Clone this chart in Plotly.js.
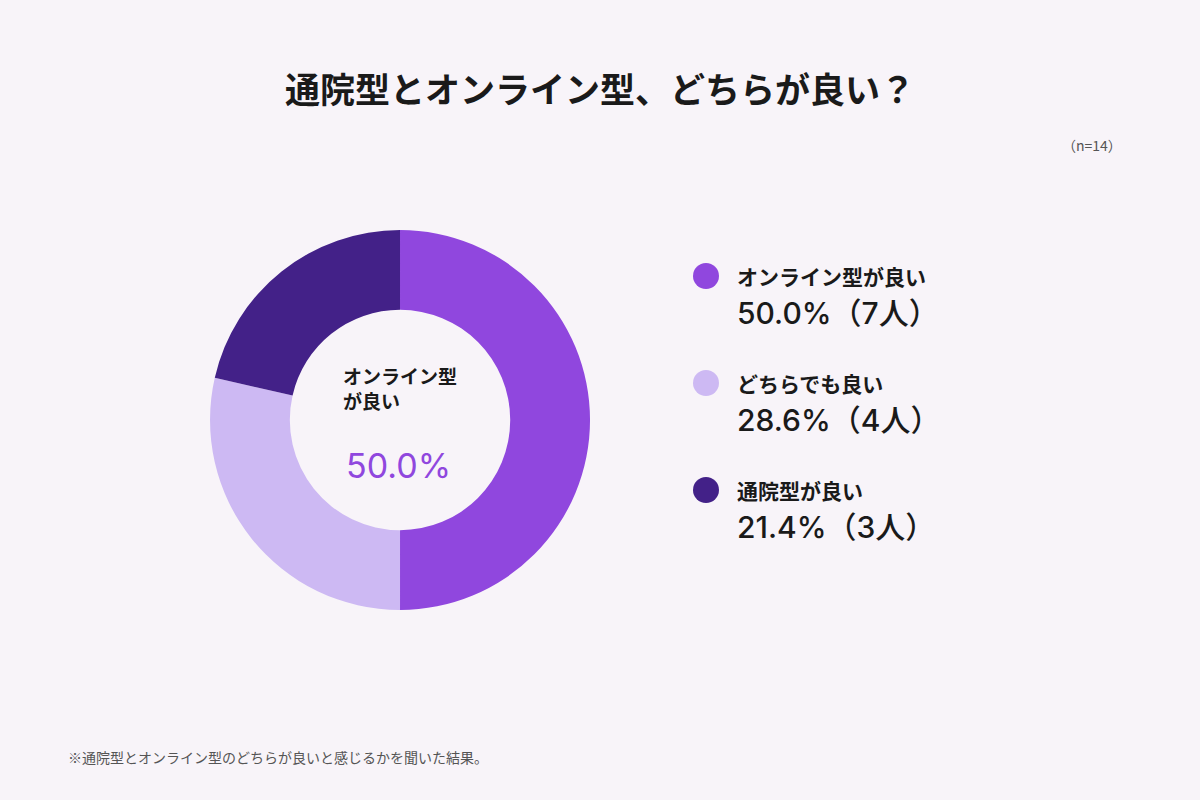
<!DOCTYPE html>
<html>
<head>
<meta charset="utf-8">
<script src="https://cdn.plot.ly/plotly-3.0.1.min.js"></script>
<style>
  html, body { margin: 0; padding: 0; background: #f8f4f9; }
  #chart { width: 1200px; height: 800px; }
</style>
</head>
<body>
<div id="chart"></div>
<script>
var labels = ['オンライン型が良い', 'どちらでも良い', '通院型が良い'];
var counts = [7, 4, 3];
var shares = [50.0, 28.6, 21.4];
var colors = ['#9047de', '#cdb9f3', '#432188'];

var font = '"Noto Sans CJK JP", "Noto Sans", sans-serif';
var numFont = 'Inter, "Noto Sans CJK JP", sans-serif';

var donut = {
  type: 'pie',
  labels: labels,
  values: counts,
  hole: 0.58,
  sort: false,
  direction: 'clockwise',
  rotation: 0,
  textinfo: 'none',
  hoverinfo: 'none',
  marker: { colors: colors, line: { width: 0 } },
  domain: { x: [0.175, 0.4917], y: [0.2375, 0.7125] },
  showlegend: false
};

function px(x) { return x / 1200; }
function py(y) { return 1 - y / 800; }

var annotations = [
  {
    text: '<b>通院型とオンライン型、どちらが良い？</b>',
    x: 0.5, y: py(87), xref: 'paper', yref: 'paper',
    xanchor: 'center', yanchor: 'middle', showarrow: false,
    font: { family: font, size: 35, color: '#1a1a1a' }
  },
  {
    text: '（n=14）',
    x: px(1124), y: py(145), xref: 'paper', yref: 'paper',
    xanchor: 'right', yanchor: 'middle', showarrow: false,
    font: { family: font, size: 14, color: '#555555' }
  },
  {
    text: '<b>オンライン型</b>',
    x: px(341), y: py(375), xref: 'paper', yref: 'paper',
    xanchor: 'left', yanchor: 'middle', showarrow: false,
    font: { family: font, size: 19, color: '#1a1a1a' }
  },
  {
    text: '<b>が良い</b>',
    x: px(341), y: py(400), xref: 'paper', yref: 'paper',
    xanchor: 'left', yanchor: 'middle', showarrow: false,
    font: { family: font, size: 19, color: '#1a1a1a' }
  },
  {
    text: shares[0].toFixed(1) + '%',
    x: px(398), y: py(465), xref: 'paper', yref: 'paper',
    xanchor: 'center', yanchor: 'middle', showarrow: false,
    font: { family: numFont, size: 34, color: colors[0] }
  },
  {
    text: '※通院型とオンライン型のどちらが良いと感じるかを聞いた結果。',
    x: px(66), y: py(757), xref: 'paper', yref: 'paper',
    xanchor: 'left', yanchor: 'middle', showarrow: false,
    font: { family: font, size: 14, color: '#555555' }
  }
];

var shapes = [];
for (var i = 0; i < labels.length; i++) {
  var cy = 276 + i * 107;
  shapes.push({
    type: 'circle', xref: 'paper', yref: 'paper',
    x0: px(693), x1: px(719),
    y0: py(cy + 13), y1: py(cy - 13),
    fillcolor: colors[i], line: { width: 0 }
  });
  annotations.push({
    text: '<b>' + labels[i] + '</b>',
    x: px(735), y: py(cy), xref: 'paper', yref: 'paper',
    xanchor: 'left', yanchor: 'middle', showarrow: false,
    font: { family: font, size: 21, color: '#1a1a1a' }
  });
  annotations.push({
    text: shares[i].toFixed(1) + '%（' + counts[i] + '人）',
    x: px(735), y: py(cy + 37), xref: 'paper', yref: 'paper',
    xanchor: 'left', yanchor: 'middle', showarrow: false,
    font: { family: numFont, size: 30, weight: 500, color: '#1a1a1a' }
  });
}

var layout = {
  width: 1200,
  height: 800,
  margin: { l: 0, r: 0, t: 0, b: 0 },
  paper_bgcolor: '#f8f4f9',
  plot_bgcolor: '#f8f4f9',
  font: { family: font },
  annotations: annotations,
  shapes: shapes
};

Plotly.newPlot('chart', [donut], layout, { displayModeBar: false, staticPlot: true });
</script>
</body>
</html>
